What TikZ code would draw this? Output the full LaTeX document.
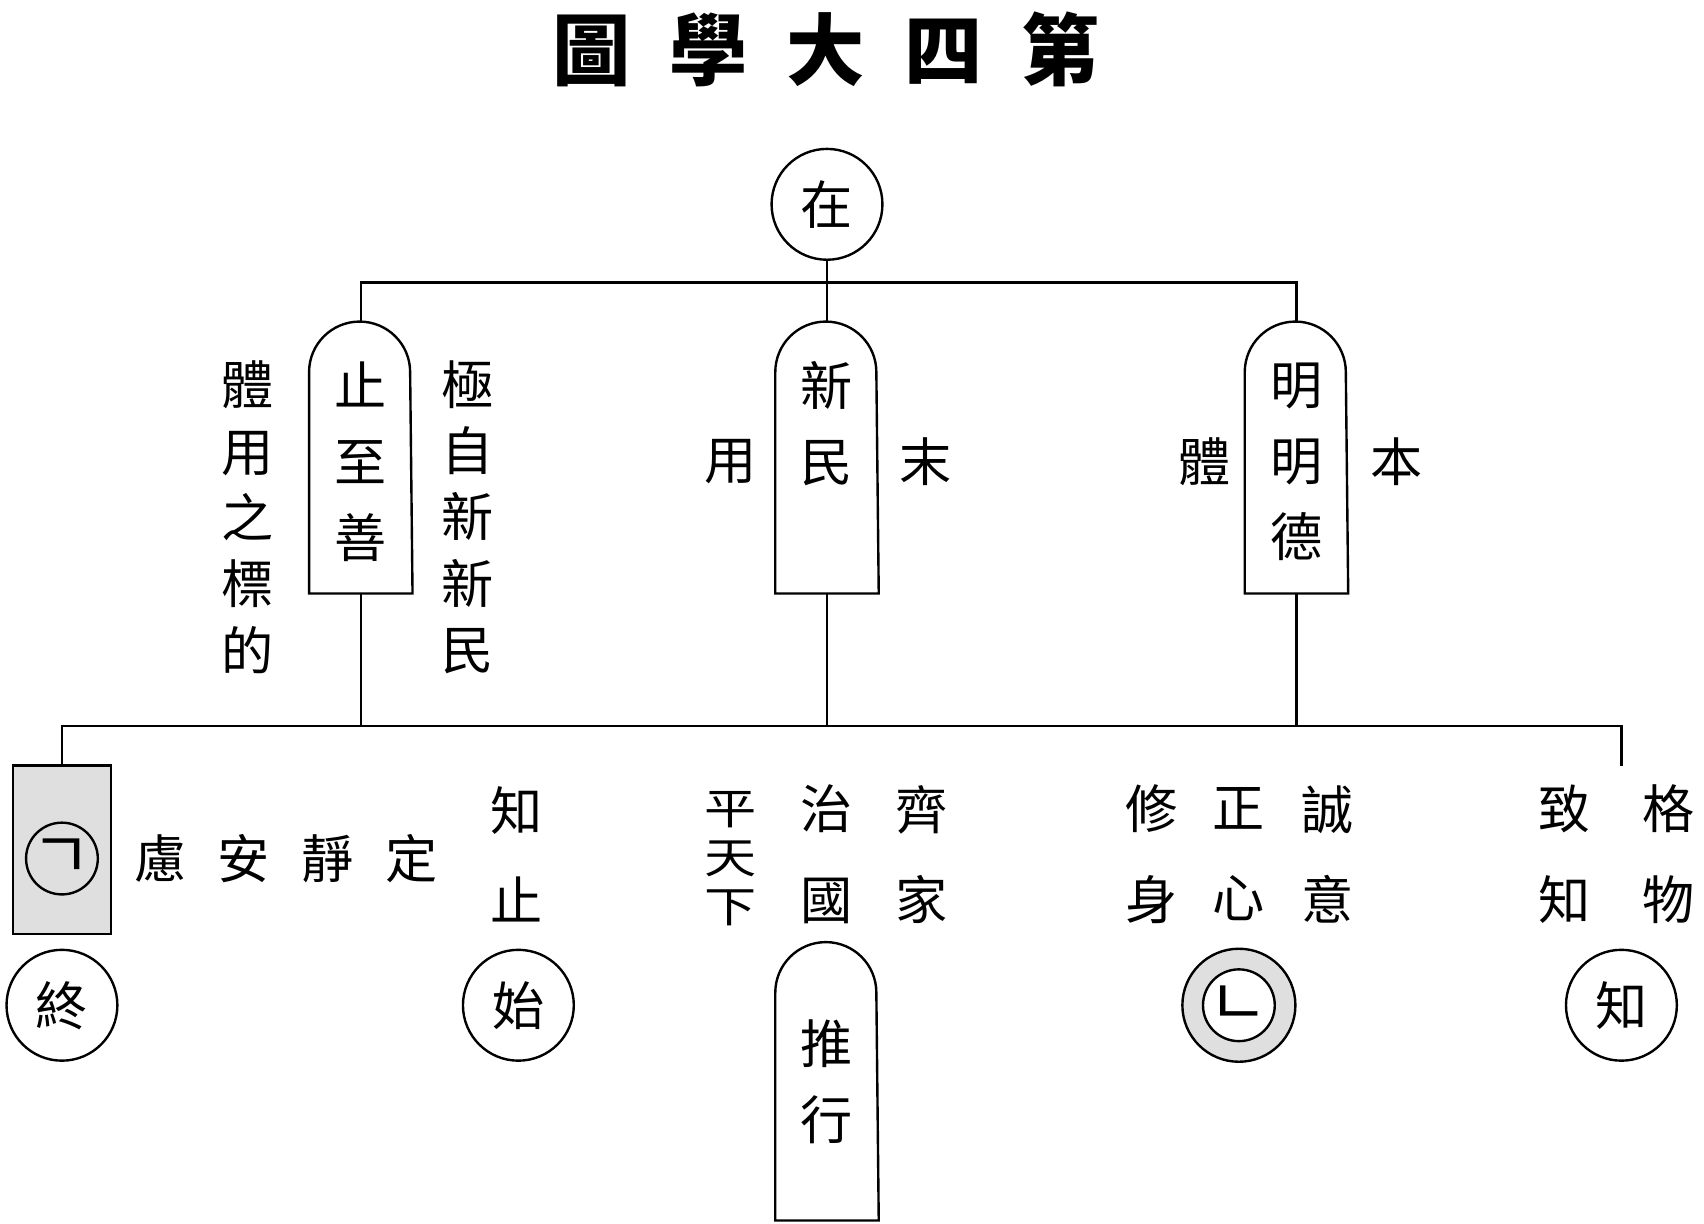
\documentclass[tikz,border=0pt]{standalone}
\usepackage{fontspec}
\usepackage{graphicx}
\setmainfont{Noto Sans CJK TC}
\newfontfamily\krfont{Noto Sans CJK KR}

\tikzset{
	col/.style={font=\fontsize{24}{#1}\selectfont, align=center, inner sep=0pt},
	col/.default=41.5,
	ring/.style={circle, draw, line width=1.1pt, minimum size=#1, inner sep=0pt, font=\fontsize{24}{28}\selectfont},
	ring/.default=51pt,
	tomb/.style={rectangle, minimum width=46.5pt, minimum height=#1, inner sep=0pt},
	tomb/.default=124pt
}

% outline of an arched box around a node
\newcommand{\tombline}[1]{%
	\draw[line width=1.1pt] (#1.south west) -- ([yshift=-23.25pt]#1.north west)
		arc[start angle=180, end angle=0, radius=23.25pt] -- (#1.south east) -- cycle;}

\begin{document}
\begin{tikzpicture}[x=0.5pt, y=-0.5pt, line width=1.1pt]
	\useasboundingbox (0,0) rectangle (1568,1126);

	\node[font=\fontsize{36}{40}\selectfont\bfseries] (title) at (760,45)
		{圖\hspace{18pt}學\hspace{18pt}大\hspace{18pt}四\hspace{18pt}第};

	\node[ring] (zai) at (761,188) {在};

	% arched boxes
	\node[tomb] (zs) at (332,421) {};
	\node[tomb] (xm) at (761,421) {};
	\node[tomb] (mmd) at (1193,421) {};
	\node[tomb=127pt] (tx) at (761,995) {};
	\foreach \n in {zs, xm, mmd, tx}
	{
		\tombline{\n};
	};

	\node[col=35] (zst) at (332,425) {止\\至\\善};
	\node[col=35] (xmt) at (761,390) {新\\民};
	\node[col=35] (mmdt) at (1193,425) {明\\明\\德};
	\node[col=35] (txt) at (761,995) {推\\行};

	\node[col=30.5] (tiyong) at (228,476) {體\\用\\之\\標\\的};
	\node[col=30.5] (jizi) at (430,476) {極\\自\\新\\新\\民};

	\node[col] (yong) at (672,425) {用};
	\node[col] (mo) at (852,425) {末};
	\node[col] (ti) at (1108,425) {體};
	\node[col] (ben) at (1285,425) {本};

	% bottom row
	\node[draw, fill=gray!25, minimum width=45pt, minimum height=77.5pt, inner sep=0pt] (jb) at (57,782) {};
	\node[ring=30pt] (mk1) at (57,790) {\fontsize{30}{32}\selectfont\krfont ㄱ};
	\node[col] (ding) at (263,790) {慮\hspace{14.5pt}安\hspace{14.5pt}靜\hspace{14.5pt}定};

	\foreach \x/\a/\b [count=\i] in {
	475/知/止,
	761/治/國,
	848/齊/家,
	1060/修/身,
	1140/正/心,
	1222/誠/意,
	1440/致/知,
	1535/格/物}
	{
		\node[col] (w\i) at (\x,786) {\a\\\b};
	};
	\node[col=22.5] (ping) at (672,790)
		{\scalebox{1}[.82]{平}\\\scalebox{1}[.82]{天}\\\scalebox{1}[.82]{下}};

	\node[ring] (zhong) at (57,925) {終};
	\node[ring] (shi) at (477,925) {始};
	\node[ring=52pt, fill=gray!25] (mk2) at (1140,925) {};
	\node[ring=28pt, fill=white] (mk2i) at (mk2) {\fontsize{30}{32}\selectfont\krfont ㄴ};
	\node[ring] (zhi) at (1492,925) {知};

	% connectors
	\coordinate (tl) at (332,260);
	\coordinate (tr) at (1193,260);
	\coordinate (bl) at (57,668);
	\coordinate (br) at (1492,668);
	\coordinate (bend) at (1492,705);

	\draw (zai.south) -- (xm.north);
	\draw (zs.north) -- (tl) -- (tr) -- (mmd.north);
	\draw (jb.north) -- (bl) -- (br) -- (bend);
	\foreach \n in {zs, xm, mmd}
	{
		\draw (\n.south) -- (\n.south |- bl);
	};
\end{tikzpicture}
\end{document}
